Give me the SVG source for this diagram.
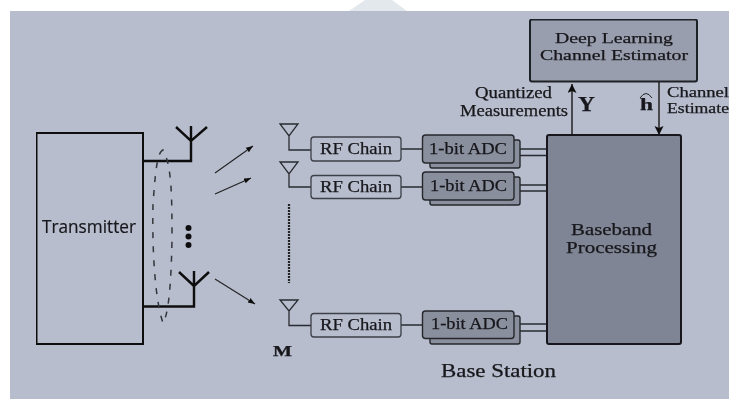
<svg xmlns="http://www.w3.org/2000/svg" width="729" height="399" viewBox="0 0 729 399">
<style>
.s{font-family:"Liberation Serif","Times New Roman",serif;fill:#17171b;font-size:16.200px;stroke:#17171b;stroke-width:0.25}
.t{font-size:15.200px}
.u{font-size:14.400px}
.rf{fill:#b7bdcd;stroke:#3c3f47;stroke-width:1.3}
.adc{fill:#8a8f9e;stroke:#26272c;stroke-width:1.4}
.w{fill:none;stroke:#2a2b30;stroke-width:1.4}
.ant{fill:none;stroke:#111;stroke-width:2.4}
.rx{fill:none;stroke:#2a2b30;stroke-width:1.3}
.thin{fill:none;stroke:#222;stroke-width:1.1}
</style>
<defs>
<filter id="soft" x="0" y="0" width="100%" height="100%"><feGaussianBlur stdDeviation="0.35"/></filter>
<marker id="a" markerWidth="8" markerHeight="8" refX="7" refY="3.5" orient="auto" markerUnits="userSpaceOnUse"><path d="M0 0.8L7 3.5L0 6.2z" fill="#111"/></marker>
<marker id="b" markerWidth="12" markerHeight="10" refX="9" refY="4.5" orient="auto" markerUnits="userSpaceOnUse"><path d="M0 0L9 4.5L0 9L2 4.5z" fill="#111"/></marker>
</defs>
<rect width="729" height="399" fill="#fff"/>
<polygon points="349,11 365,0 392,0 407,11" fill="#e3e8ed"/>
<rect x="10" y="11" width="719" height="388" fill="#b7bdcd"/>
<g filter="url(#soft)">
<g id="transmitter">
<rect x="36.500" y="133" width="106.500" height="211" fill="#b7bdcd" stroke="#111" stroke-width="2"/>
<text x="42" y="233" textLength="94" lengthAdjust="spacingAndGlyphs" style="font-family:'Open Sans','Liberation Sans',sans-serif;font-size:17.500px;fill:#17171b;stroke:#17171b;stroke-width:0.2">Transmitter</text>
</g>

<g id="tx-antennas">
<path class="ant" d="M143 161H191V126M176 127L191 141L207 127"/>
<path class="ant" d="M143 306.500H194V271M179 272L194 286L209 272"/>
<path d="M163 150C157 152 155 175 153 205C152 250 155 300 163 323C168 315 171 290 172 240C172 200 172 165 163 150z" fill="none" stroke="#33353b" stroke-width="1.500" stroke-dasharray="6 8"/>
<circle cx="188.500" cy="228" r="3" fill="#111"/>
<circle cx="188.500" cy="236.500" r="3" fill="#111"/>
<circle cx="188.500" cy="245" r="3" fill="#111"/>
</g>

<g id="connectors">
<path class="thin" marker-end="url(#a)" d="M215 173L253 146"/>
<path class="thin" marker-end="url(#a)" d="M215 194L251 178"/>
<path class="thin" marker-end="url(#a)" d="M215 279L255 304"/>
<path class="w" d="M401 149H423M401 187H423M401 325H423"/>
<path class="w" d="M514 149H547M520 155.500H547M514 185H547M520 191H547M514 324H547M520 331H547"/>
<path d="M572 135V84" fill="none" stroke="#222" stroke-width="1.500" marker-end="url(#b)"/>
<path d="M659 82V135" fill="none" stroke="#222" stroke-width="1.500" marker-end="url(#b)"/>
<path d="M289 204V283" fill="none" stroke="#222" stroke-width="2.200" stroke-dasharray="2 1"/>
</g>

<g id="rx-antenna-1"><path class="rx" d="M280 124H298L289 136zM289 136V150H311"/></g>
<g id="rx-antenna-2"><path class="rx" d="M280 162H298L289 174zM289 174V187H311"/></g>
<g id="rx-antenna-3"><path class="rx" d="M280 300H298L289 311zM289 311V325.500H311"/></g>

<g id="rf-chain-1"><rect class="rf" x="311" y="137" width="90" height="24" rx="3"/><text class="s" x="320" y="154" textLength="72" lengthAdjust="spacingAndGlyphs">RF Chain</text></g>
<g id="rf-chain-2"><rect class="rf" x="311" y="175.500" width="90" height="23" rx="3"/><text class="s" x="320" y="192" textLength="72" lengthAdjust="spacingAndGlyphs">RF Chain</text></g>
<g id="rf-chain-3"><rect class="rf" x="311" y="313.500" width="90" height="23.500" rx="3"/><text class="s" x="320" y="330" textLength="72" lengthAdjust="spacingAndGlyphs">RF Chain</text></g>

<g id="adc-1"><rect class="adc" x="430" y="140" width="90" height="28" rx="2"/><rect class="adc" x="422.500" y="135" width="91.500" height="28" rx="3"/><text class="s" x="429" y="154" textLength="78" lengthAdjust="spacingAndGlyphs">1-bit ADC</text></g>
<g id="adc-2"><rect class="adc" x="430" y="177" width="90" height="28" rx="2"/><rect class="adc" x="422.500" y="172" width="91.500" height="28" rx="3"/><text class="s" x="430" y="191" textLength="77" lengthAdjust="spacingAndGlyphs">1-bit ADC</text></g>
<g id="adc-3"><rect class="adc" x="430" y="316" width="90" height="28" rx="2"/><rect class="adc" x="422.500" y="311" width="91.500" height="27.500" rx="3"/><text class="s" x="431" y="329" textLength="77" lengthAdjust="spacingAndGlyphs">1-bit ADC</text></g>

<g id="baseband">
<rect x="547" y="135" width="134" height="209" rx="2" fill="#7f8594" stroke="#15161a" stroke-width="2"/>
<text class="s" x="571" y="235" textLength="81" lengthAdjust="spacingAndGlyphs">Baseband</text>
<text class="s" x="566" y="253" textLength="91" lengthAdjust="spacingAndGlyphs">Processing</text>
</g>

<g id="estimator">
<rect x="530" y="19.500" width="167" height="62" rx="2" fill="#999eae" stroke="#1f2025" stroke-width="2"/>
<text class="s t" x="555" y="43" textLength="118" lengthAdjust="spacingAndGlyphs">Deep Learning</text>
<text class="s t" x="540" y="60" textLength="148" lengthAdjust="spacingAndGlyphs">Channel Estimator</text>
</g>

<g id="labels">
<text class="s" x="475" y="98" textLength="77" lengthAdjust="spacingAndGlyphs">Quantized</text>
<text class="s" x="460" y="116" textLength="108" lengthAdjust="spacingAndGlyphs">Measurements</text>
<text class="s" x="578" y="111" textLength="17" lengthAdjust="spacingAndGlyphs" style="font-size:20px;font-weight:bold">Y</text>
<text class="s" x="640" y="110" textLength="13" lengthAdjust="spacingAndGlyphs" style="font-size:17px;font-weight:bold">h</text>
<path d="M640 98Q646 89 652 98" fill="none" stroke="#222" stroke-width="1"/>
<text class="s u" x="667" y="97" textLength="62" lengthAdjust="spacingAndGlyphs">Channel</text>
<text class="s u" x="667" y="113" textLength="62" lengthAdjust="spacingAndGlyphs">Estimate</text>
<text class="s" x="273" y="356" textLength="19" lengthAdjust="spacingAndGlyphs" style="font-weight:bold;font-size:14px">M</text>
<text class="s" x="441" y="377" textLength="115" lengthAdjust="spacingAndGlyphs" style="font-size:18px">Base Station</text>
</g>
</g>
</svg>
